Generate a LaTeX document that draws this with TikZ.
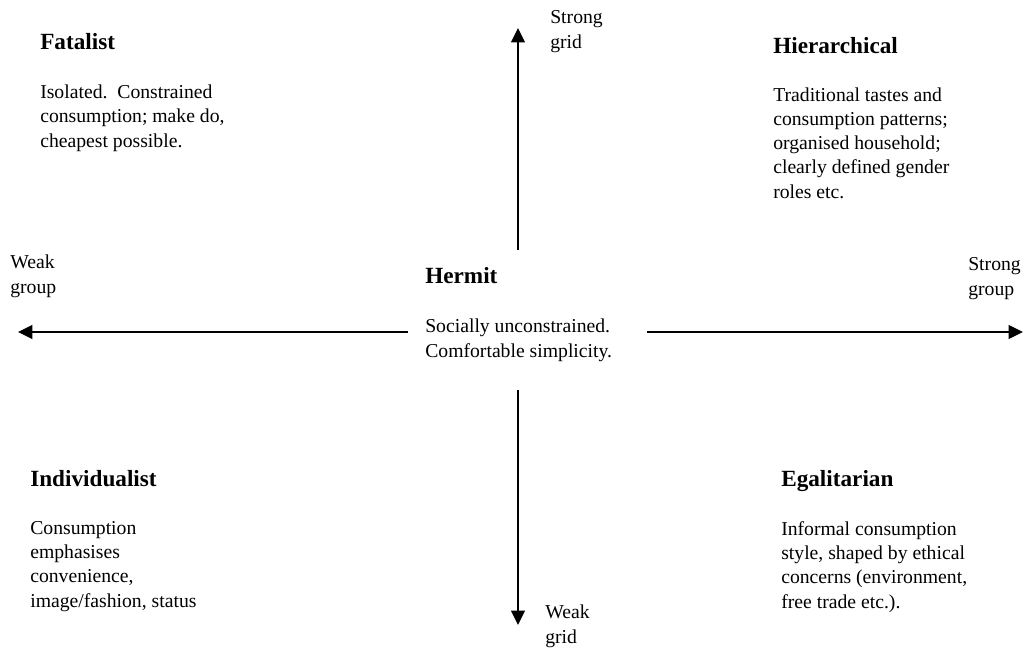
\documentclass[tikz,border=0pt]{standalone}
\usepackage{fontspec}
\setmainfont{Liberation Serif}
\usetikzlibrary{arrows.meta}
\begin{document}
\begin{tikzpicture}[x=0.025cm,y=-0.025cm,
  head/.style={anchor=base west,inner sep=0pt,font=\fontsize{16.5pt}{20pt}\selectfont\bfseries},
  body/.style={anchor=base west,inner sep=0pt,align=left,font=\fontsize{14pt}{17.2pt}\selectfont},
  axis/.style={draw,line width=1.6pt,-{Triangle[length=0.36cm,width=0.34cm]}}]
\useasboundingbox (0,0) rectangle (1025,647);
% the four corners (body nodes sit on their last line)
\node[head] (fatalist) at (40,49) {Fatalist};
\node[body] (fataltext) at (40,147) {Isolated.\ \ Constrained\\consumption; make do,\\cheapest possible.};
\node[head] (hier) at (773,53) {Hierarchical};
\node[body] (hiertext) at (773,198) {Traditional tastes and\\consumption patterns;\\organised household;\\clearly defined gender\\roles etc.};
\node[head] (indiv) at (30,486) {Individualist};
\node[body] (indivtext) at (30,607) {Consumption\\emphasises\\convenience,\\image/fashion, status};
\node[head] (egal) at (781,486) {Egalitarian};
\node[body] (egaltext) at (781,608) {Informal consumption\\style, shaped by ethical\\concerns (environment,\\free trade etc.).};
% the middle
\node[head] (hermit) at (425,283) {Hermit};
\node[body] (hermittext) at (425,357) {Socially unconstrained.\\Comfortable simplicity.};
% axis labels
\node[body] (stronggrid) at (550,48) {Strong\\grid};
\node[body] (weakgrid) at (545,643) {Weak\\grid};
\node[body] (weakgroup) at (10,293) {Weak\\group};
\node[body] (stronggroup) at (968,295) {Strong\\group};
% axes
\coordinate (ntail) at (518,250);
\coordinate (nhead) at (518,28);
\coordinate (stail) at (518,390);
\coordinate (shead) at (518,625);
\coordinate (wtail) at (408,332);
\coordinate (whead) at (18,332);
\coordinate (etail) at (647,332);
\coordinate (ehead) at (1023,332);
\path[axis] (ntail) -- (nhead);
\path[axis] (stail) -- (shead);
\path[axis] (wtail) -- (whead);
\path[axis] (etail) -- (ehead);
\end{tikzpicture}
\end{document}
